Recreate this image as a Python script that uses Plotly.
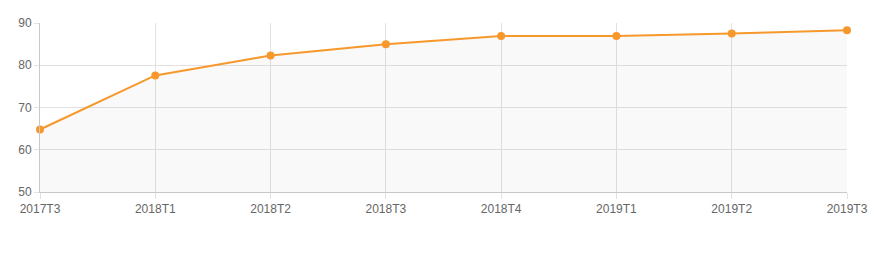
import plotly.graph_objects as go

categories = ["2017T3", "2018T1", "2018T2", "2018T3", "2018T4", "2019T1", "2019T2", "2019T3"]
values = [64.8, 77.6, 82.3, 85.0, 86.9, 86.9, 87.5, 88.3]
y_ticks = [50, 60, 70, 80, 90]

fig = go.Figure()
fig.add_trace(go.Scatter(
    x=categories, y=values, mode="lines+markers",
    line=dict(color="#f7982c", width=2),
    marker=dict(color="#f7982c", size=8),
    fill="tozeroy", fillcolor="rgba(0,0,0,0.025)",
    cliponaxis=False,
    hoverinfo="x+y",
))
fig.update_layout(
    width=889, height=255,
    margin=dict(l=40, r=42, t=23, b=63),
    paper_bgcolor="white", plot_bgcolor="white",
    showlegend=False,
    font=dict(family="Helvetica, Arial, 'Liberation Sans', sans-serif", size=12, color="#666"),
    xaxis=dict(
        type="category", range=[0, len(categories) - 1],
        showgrid=True, gridcolor="#e2e2e2", gridwidth=1,
        showline=True, linecolor="#c8c8c8", linewidth=1,
        ticks="outside", ticklen=6, tickcolor="#e2e2e2",
        tickfont=dict(size=12, color="#666"),
    ),
    yaxis=dict(
        range=[50, 90], tickvals=y_ticks,
        showgrid=True, gridcolor="#e2e2e2", gridwidth=1,
        showline=True, linecolor="#c8c8c8", linewidth=1,
        ticks="outside", ticklen=5, tickcolor="#e2e2e2",
        tickfont=dict(size=12, color="#666"), zeroline=False,
    ),
)
fig.write_html("out.html")
